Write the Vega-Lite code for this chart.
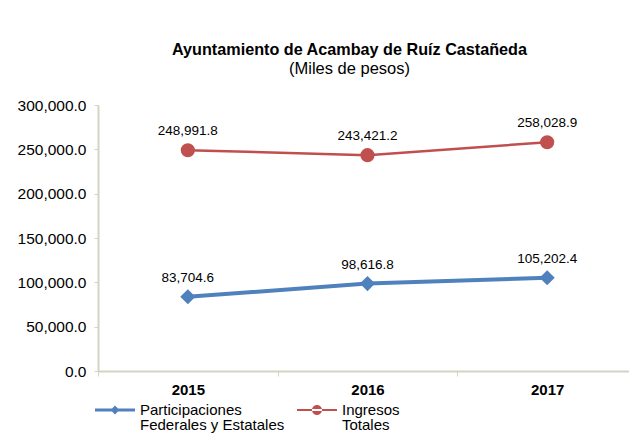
{
  "$schema": "https://vega.github.io/schema/vega-lite/v6.json",
  "autosize": "none",
  "width": 539,
  "height": 266,
  "padding": {"left": 98, "top": 105, "right": 0, "bottom": 63},
  "background": "white",
  "config": {
    "font": "Liberation Sans",
    "view": {"stroke": null}
  },
  "title": {
    "text": "Ayuntamiento de Acambay de Ruíz Castañeda",
    "subtitle": "(Miles de pesos)",
    "fontSize": 16.2,
    "fontWeight": "bold",
    "color": "#000000",
    "subtitleFontSize": 16.5,
    "subtitleColor": "#000000",
    "subtitlePadding": 2,
    "anchor": "middle",
    "dx": -18,
    "offset": 21
  },
  "data": {
    "values": [
      {"anio": "2015", "serie": "Participaciones Federales y Estatales", "valor": 83704.6},
      {"anio": "2016", "serie": "Participaciones Federales y Estatales", "valor": 98616.8},
      {"anio": "2017", "serie": "Participaciones Federales y Estatales", "valor": 105202.4},
      {"anio": "2015", "serie": "Ingresos Totales", "valor": 248991.8},
      {"anio": "2016", "serie": "Ingresos Totales", "valor": 243421.2},
      {"anio": "2017", "serie": "Ingresos Totales", "valor": 258028.9}
    ]
  },
  "encoding": {
    "x": {
      "field": "anio",
      "type": "ordinal",
      "scale": {"type": "band", "paddingInner": 0, "paddingOuter": 0},
      "axis": {
        "title": null,
        "labelAngle": 0,
        "labelFontSize": 15,
        "labelFontWeight": "bold",
        "labelColor": "#000000",
        "labelPadding": 6,
        "tickBand": "extent",
        "tickSize": 5,
        "tickColor": "#d4d4c4",
        "domainColor": "#d4d4c4",
        "domainWidth": 2
      }
    },
    "y": {
      "field": "valor",
      "type": "quantitative",
      "scale": {"domain": [0, 300000], "nice": false},
      "axis": {
        "title": null,
        "values": [0, 50000, 100000, 150000, 200000, 250000, 300000],
        "format": ",.1f",
        "grid": false,
        "labelFontSize": 15.5,
        "labelColor": "#000000",
        "labelPadding": 8,
        "tickSize": 4,
        "tickColor": "#d4d4c4",
        "domainColor": "#d4d4c4",
        "domainWidth": 2
      }
    },
    "color": {
      "field": "serie",
      "type": "nominal",
      "scale": {
        "domain": ["Participaciones Federales y Estatales", "Ingresos Totales"],
        "range": ["#4F81BD", "#C0504D"]
      },
      "legend": {
        "title": null,
        "orient": "none",
        "legendX": -3,
        "legendY": 278,
        "direction": "horizontal",
        "columnPadding": 12,
        "labelFontSize": 15,
        "labelColor": "#000000",
        "labelLimit": 300,
        "labelBaseline": "top",
        "labelOffset": 5,
        "symbolSize": 1600,
        "symbolType": "M-1,-0.075H1V0.075H-1Z M0,-0.22L0.22,0L0,0.22L-0.22,0Z",
        "labelExpr": "[slice(datum.label, 0, indexof(datum.label, ' ')), slice(datum.label, indexof(datum.label, ' ') + 1)]",
        "encode": {
          "labels": {
            "update": {
              "lineHeight": {"value": 15}
            }
          },
          "symbols": {
            "update": {
              "shape": {"signal": "datum.value === 'Ingresos Totales' ? 'M-1,-0.05H1V0.05H-1Z M-0.25,0A0.25,0.25 0 1,0 0.25,0A0.25,0.25 0 1,0 -0.25,0Z' : 'M-1,-0.075H1V0.075H-1Z M0,-0.22L0.22,0L0,0.22L-0.22,0Z'"},
              "fill": {"signal": "datum.value === 'Ingresos Totales' ? '#C0504D' : '#4F81BD'"},
              "fillOpacity": {"value": 1},
              "strokeWidth": {"value": 0},
              "yc": {"value": 27}
            }
          }
        }
      }
    }
  },
  "layer": [
    {
      "mark": {"type": "line"},
      "encoding": {
        "strokeWidth": {
          "condition": {"test": "datum.serie === 'Ingresos Totales'", "value": 2.5},
          "value": 4
        }
      }
    },
    {
      "transform": [{"filter": "datum.serie === 'Participaciones Federales y Estatales'"}],
      "mark": {"type": "point", "shape": "diamond", "filled": true, "opacity": 1, "size": 230}
    },
    {
      "transform": [{"filter": "datum.serie === 'Ingresos Totales'"}],
      "mark": {"type": "point", "shape": "circle", "filled": true, "opacity": 1, "size": 200}
    },
    {
      "mark": {"type": "text", "dy": -19, "fontSize": 13.5, "color": "#000000"},
      "encoding": {
        "text": {"field": "valor", "type": "quantitative", "format": ",.1f"},
        "color": {"value": "#000000"}
      }
    }
  ]
}
